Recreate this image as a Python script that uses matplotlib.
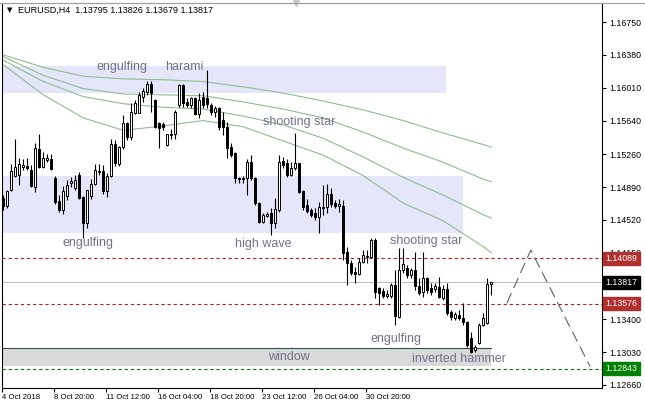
import matplotlib
matplotlib.use('Agg')
import matplotlib.pyplot as plt
import matplotlib.transforms as mtransforms
from matplotlib.patches import Rectangle
from matplotlib.lines import Line2D
import numpy as np

# EURUSD H4 candles (one per bar, oldest first)
opens = [1.1477, 1.1468, 1.1486, 1.1502, 1.1503, 1.1512, 1.1513, 1.1508, 1.1489, 1.1532,
         1.1512, 1.1520, 1.1521, 1.1499, 1.1473, 1.1463, 1.1479, 1.1494, 1.1488, 1.1503,
         1.1478, 1.1449, 1.1479, 1.1493, 1.1506, 1.1507, 1.1485, 1.1502, 1.1538, 1.1515,
         1.1534, 1.1561, 1.1545, 1.1573, 1.1573, 1.1591, 1.1596, 1.1605, 1.1587, 1.1561,
         1.1560, 1.1536, 1.1548, 1.1549, 1.1582, 1.1604, 1.1585, 1.1582, 1.1589, 1.1571,
         1.1591, 1.1589, 1.1582, 1.1574, 1.1578, 1.1565, 1.1557, 1.1534, 1.1527, 1.1499,
         1.1498, 1.1499, 1.1517, 1.1499, 1.1471, 1.1450, 1.1456, 1.1460, 1.1449, 1.1463,
         1.1518, 1.1516, 1.1503, 1.1511, 1.1516, 1.1485, 1.1469, 1.1463, 1.1460, 1.1455,
         1.1466, 1.1467, 1.1481, 1.1471, 1.1468, 1.1468, 1.1416, 1.1404, 1.1393, 1.1391,
         1.1405, 1.1410, 1.1410, 1.1429, 1.1375, 1.1372, 1.1366, 1.1366, 1.1379, 1.1343,
         1.1396, 1.1398, 1.1390, 1.1396, 1.1378, 1.1371, 1.1387, 1.1375, 1.1374, 1.1376,
         1.1364, 1.1374, 1.1348, 1.1342, 1.1345, 1.1342, 1.1337, 1.1319, 1.1305, 1.1313,
         1.1334, 1.1336, 1.13795]
highs = [1.1480, 1.1486, 1.1515, 1.1543, 1.1522, 1.1521, 1.1522, 1.1514, 1.1539, 1.1549,
         1.1529, 1.1526, 1.1526, 1.1502, 1.1480, 1.1490, 1.1497, 1.1500, 1.1503, 1.1506,
         1.1479, 1.1486, 1.1498, 1.1515, 1.1515, 1.1514, 1.1505, 1.1543, 1.1542, 1.1535,
         1.1570, 1.1562, 1.1584, 1.1587, 1.1596, 1.1601, 1.1609, 1.1609, 1.1588, 1.1562,
         1.1562, 1.1549, 1.1554, 1.1576, 1.1605, 1.1605, 1.1589, 1.1591, 1.1591, 1.1595,
         1.1596, 1.1621, 1.1584, 1.1580, 1.1579, 1.1574, 1.1562, 1.1539, 1.1529, 1.1500,
         1.1502, 1.1521, 1.1525, 1.1500, 1.1472, 1.1460, 1.1461, 1.1466, 1.1477, 1.1525,
         1.1523, 1.1521, 1.1517, 1.1550, 1.1516, 1.1486, 1.1476, 1.1466, 1.1466, 1.1472,
         1.1491, 1.1493, 1.1488, 1.1475, 1.1476, 1.1475, 1.1422, 1.1407, 1.1399, 1.1409,
         1.1418, 1.1418, 1.1432, 1.1432, 1.1376, 1.1375, 1.1373, 1.1381, 1.1396, 1.1420,
         1.1420, 1.1401, 1.1398, 1.1416, 1.1387, 1.1416, 1.1388, 1.1381, 1.1381, 1.1388,
         1.1379, 1.1381, 1.1351, 1.1348, 1.1351, 1.1358, 1.1338, 1.1326, 1.1311, 1.1336,
         1.1347, 1.1387, 1.13826]
lows = [1.1463, 1.1466, 1.1485, 1.1500, 1.1491, 1.1508, 1.1508, 1.1489, 1.1484, 1.1511,
        1.1511, 1.1517, 1.1508, 1.1470, 1.1461, 1.1459, 1.1475, 1.1489, 1.1486, 1.1476,
        1.1432, 1.1443, 1.1476, 1.1491, 1.1503, 1.1481, 1.1478, 1.1500, 1.1513, 1.1513,
        1.1532, 1.1542, 1.1542, 1.1571, 1.1573, 1.1585, 1.1593, 1.1574, 1.1556, 1.1533,
        1.1553, 1.1535, 1.1543, 1.1543, 1.1579, 1.1579, 1.1579, 1.1578, 1.1570, 1.1567,
        1.1578, 1.1578, 1.1570, 1.1568, 1.1553, 1.1548, 1.1522, 1.1523, 1.1494, 1.1494,
        1.1494, 1.1480, 1.1497, 1.1469, 1.1449, 1.1449, 1.1455, 1.1435, 1.1443, 1.1461,
        1.1511, 1.1500, 1.1502, 1.1508, 1.1482, 1.1463, 1.1460, 1.1455, 1.1452, 1.1437,
        1.1458, 1.1460, 1.1467, 1.1466, 1.1461, 1.1407, 1.1379, 1.1390, 1.1381, 1.1390,
        1.1404, 1.1404, 1.1409, 1.1364, 1.1356, 1.1364, 1.1364, 1.1364, 1.1334, 1.1342,
        1.1392, 1.1387, 1.1387, 1.1373, 1.1367, 1.1365, 1.1370, 1.1367, 1.1371, 1.1364,
        1.1362, 1.1345, 1.1339, 1.1339, 1.1339, 1.1334, 1.1309, 1.1302, 1.1303, 1.1312,
        1.1333, 1.1335, 1.13679]
closes = [1.1468, 1.1485, 1.1507, 1.1512, 1.1515, 1.1514, 1.1511, 1.1490, 1.1533, 1.1512,
          1.1522, 1.1522, 1.1509, 1.1472, 1.1463, 1.1485, 1.1491, 1.1496, 1.1497, 1.1477,
          1.1449, 1.1486, 1.1493, 1.1508, 1.1507, 1.1485, 1.1502, 1.1538, 1.1516, 1.1534,
          1.1561, 1.1545, 1.1574, 1.1584, 1.1593, 1.1597, 1.1605, 1.1595, 1.1557, 1.1556,
          1.1557, 1.1549, 1.1549, 1.1574, 1.1604, 1.1584, 1.1582, 1.1589, 1.1571, 1.1587,
          1.1582, 1.1583, 1.1574, 1.1578, 1.1557, 1.1557, 1.1533, 1.1525, 1.1499, 1.1498,
          1.1499, 1.1517, 1.1499, 1.1471, 1.1450, 1.1458, 1.1459, 1.1449, 1.1464, 1.1517,
          1.1514, 1.1503, 1.1511, 1.1516, 1.1484, 1.1467, 1.1462, 1.1458, 1.1455, 1.1467,
          1.1467, 1.1481, 1.1470, 1.1468, 1.1470, 1.1415, 1.1404, 1.1392, 1.1391, 1.1405,
          1.1413, 1.1411, 1.1429, 1.1371, 1.1370, 1.1366, 1.1369, 1.1379, 1.1344, 1.1396,
          1.1402, 1.1390, 1.1396, 1.1378, 1.1370, 1.1387, 1.1373, 1.1371, 1.1378, 1.1365,
          1.1374, 1.1347, 1.1343, 1.1346, 1.1342, 1.1337, 1.1311, 1.1303, 1.1309, 1.1334,
          1.1342, 1.1380, 1.13817]

# moving averages, read at every 10th bar
ma_bars = [0, 10, 20, 30, 40, 50, 60, 70, 80, 90, 100, 110, 120, 122]
ma1 = [1.1638, 1.1624, 1.1614, 1.1611, 1.1610, 1.1608, 1.1602, 1.1595, 1.1586, 1.1576, 1.1564, 1.1550, 1.1537, 1.1534]
ma2 = [1.1636, 1.1615, 1.1600, 1.1594, 1.1593, 1.1592, 1.1585, 1.1577, 1.1567, 1.1551, 1.1533, 1.1517, 1.1498, 1.1495]
ma3 = [1.1632, 1.1608, 1.1591, 1.1583, 1.1579, 1.1577, 1.1569, 1.1559, 1.1544, 1.1523, 1.1500, 1.1480, 1.1458, 1.1454]
ma4 = [1.1627, 1.1593, 1.1567, 1.1553, 1.1558, 1.1564, 1.1557, 1.1541, 1.1525, 1.1502, 1.1471, 1.1451, 1.1422, 1.1415]

# levels
resist_1 = 1.14089
resist_2 = 1.13576
support = 1.12843
bid = 1.13817

# zones: (bar_end, price_low, price_high)
zone_top = (110.7, 1.1595, 1.1626)
zone_mid = (115.0, 1.1437, 1.1502)
zone_gap = (121.9, 1.1287, 1.1308)

# projected path
proj_bars = [125.9, 131.9, 146.7]
proj_prices = [1.1358, 1.1418, 1.1287]

price_ticks = [1.16750, 1.16380, 1.16010, 1.15640, 1.15260, 1.14890, 1.14520,
               1.14150, 1.13770, 1.13400, 1.13030, 1.12660]
date_bars = [0, 13, 26, 39, 52, 65, 78, 91]
date_labels = ['4 Oct 2018', '8 Oct 20:00', '11 Oct 12:00', '16 Oct 04:00',
               '18 Oct 20:00', '23 Oct 12:00', '26 Oct 04:00', '30 Oct 20:00']

# pattern names: (bar, price, text)
pattern_bars = [23.4, 40.4, 64.9, 14.7, 57.9, 96.7, 91.7, 66.2, 102.2]
pattern_prices = [1.1624, 1.1624, 1.1562, 1.1426, 1.1425, 1.1428, 1.1318, 1.1298, 1.1295]
pattern_names = ['engulfing', 'harami', 'shooting star', 'engulfing', 'high wave',
                 'shooting star', 'engulfing', 'window', 'inverted hammer']

plt.rcParams['font.family'] = ['Liberation Sans', 'DejaVu Sans']

fig = plt.figure(figsize=(6.45, 4.09), dpi=100)
ax = fig.add_axes([2 / 645, 21 / 409, 600 / 645, 385 / 409])
xmin, xmax = -0.33, 149.7
ax.set_xlim(xmin, xmax)
ax.set_ylim(1.12626, 1.16965)

# zones
for bar_end, lo, hi in [zone_top, zone_mid]:
    ax.add_patch(Rectangle((xmin, lo), bar_end - xmin, hi - lo, facecolor='#e6e6fa',
                           edgecolor='none', zorder=0))
ax.add_patch(Rectangle((xmin, zone_gap[1]), zone_gap[0] - xmin, zone_gap[2] - zone_gap[1],
                       facecolor='#d9d9d9', edgecolor='none', zorder=0))
ax.plot([xmin, zone_gap[0]], [zone_gap[2], zone_gap[2]], color='#2f4f4f', lw=0.8, zorder=1)

# moving averages
for ma in [ma1, ma2, ma3, ma4]:
    ax.plot(ma_bars, ma, color='#8fbc8f', lw=0.8, zorder=1)

# levels
ax.axhline(bid, color='#c0c0c0', lw=0.8, zorder=1)
for lvl in [resist_1, resist_2]:
    ax.axhline(lvl, color='#b22222', lw=0.8, ls=(0, (3, 2.5)), zorder=2)
ax.axhline(support, color='#008000', lw=0.8, ls=(0, (3, 2.5)), zorder=2)

# candles
x = np.arange(len(opens))
o = np.array(opens)
c = np.array(closes)
ax.vlines(x, lows, highs, color='black', lw=0.8, zorder=3)
up = c >= o
ax.bar(x[up], c[up] - o[up], bottom=o[up], width=0.55, facecolor='white',
       edgecolor='black', linewidth=0.7, zorder=4)
ax.bar(x[~up], o[~up] - c[~up], bottom=c[~up], width=0.55, facecolor='black',
       edgecolor='black', linewidth=0.7, zorder=4)

# projection
ax.plot(proj_bars, proj_prices, color='#606060', lw=0.8, ls=(0, (10, 5)), zorder=2)

# pattern labels
for bx, py, name in zip(pattern_bars, pattern_prices, pattern_names):
    ax.text(bx, py, name, fontsize=9, color='#72728a', va='center', ha='left', zorder=5)

# axes styling
for side in ['left', 'right', 'bottom']:
    ax.spines[side].set_color('black')
    ax.spines[side].set_linewidth(0.8)
ax.spines['top'].set_color('#a0a0a0')
ax.spines['top'].set_linewidth(0.8)

ax.yaxis.tick_right()
ax.set_yticks(price_ticks)
ax.set_yticklabels([f'{p:.5f}' for p in price_ticks])
ax.tick_params(axis='y', length=3, width=0.8, pad=2, labelsize=6.3, colors='black')
ax.set_xticks(np.array(date_bars) - 0.3)
ax.set_xticklabels(date_labels, ha='left')
ax.tick_params(axis='x', length=3, width=0.8, pad=1.5, labelsize=5.6, colors='black')

# price boxes on the right axis
trans = mtransforms.blended_transform_factory(ax.transAxes, ax.transData)
for lvl, bg in [(resist_1, '#b03030'), (bid, 'black'), (resist_2, '#b03030'), (support, '#008000')]:
    ax.text(1.006, lvl, f'{lvl:.5f}', transform=trans, fontsize=6.3, color='white',
            va='center', ha='left', zorder=10, clip_on=False,
            bbox=dict(boxstyle='square,pad=0.25', facecolor=bg, edgecolor=bg))

# header
fig.text(7 / 645, 1 - 10 / 409, '\u25bc', fontsize=5, family='DejaVu Sans', va='center')
fig.text(18 / 645, 1 - 10 / 409, 'EURUSD,H4  1.13795 1.13826 1.13679 1.13817',
         fontsize=6.5, va='center')
fig.add_artist(Line2D([0, 1], [1 - 3 / 409] * 2, color='#a0a0a0', lw=0.8))
ax.plot([0.49], [1.0], marker='v', color='#c8c8c8', markersize=5, transform=ax.transAxes,
        clip_on=False, zorder=6)

fig.savefig('out.png', dpi=100)
